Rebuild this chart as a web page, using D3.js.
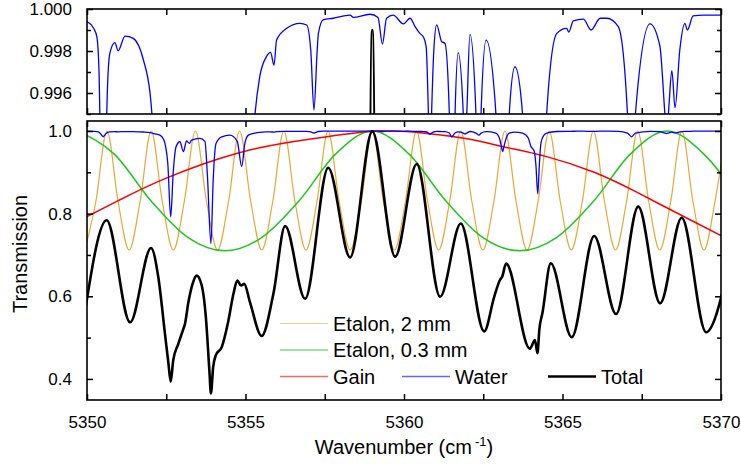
<!DOCTYPE html>
<html>
<head>
<meta charset="utf-8">
<script src="https://cdn.jsdelivr.net/npm/d3@7"></script>
<style>
body { margin: 0; background: #fff; }
svg { display: block; font-family: "Liberation Sans", Arial, sans-serif; }
</style>
</head>
<body>
<svg width="741" height="464"></svg>
<script>
// ticks
const xTicks = [5350, 5355, 5360, 5365, 5370]
const xMinor = [5352.5, 5357.5, 5362.5, 5367.5]
const topTicks = [0.996, 0.998, 1.000]
const topMinor = [0.995, 0.997, 0.999]
const botTicks = [0.4, 0.6, 0.8, 1.0]
const botMinor = [0.5, 0.7, 0.9]

// etalon 2 mm : peaks, half-way and minima
const etalon2 = [
	[5349.933,0.712],[5350.281,0.83],[5350.630,1],[5350.979,0.83],[5351.328,0.712],[5351.676,0.83],
	[5352.025,1],[5352.374,0.83],[5352.723,0.712],[5353.071,0.83],[5353.420,1],[5353.769,0.83],
	[5354.118,0.712],[5354.466,0.83],[5354.815,1],[5355.164,0.83],[5355.513,0.712],[5355.861,0.83],
	[5356.210,1],[5356.559,0.83],[5356.908,0.712],[5357.256,0.83],[5357.605,1],[5357.954,0.83],
	[5358.303,0.712],[5358.651,0.83],[5359.000,1],[5359.349,0.83],[5359.698,0.712],[5360.046,0.83],
	[5360.395,1],[5360.744,0.83],[5361.093,0.712],[5361.441,0.83],[5361.790,1],[5362.139,0.83],
	[5362.488,0.712],[5362.836,0.83],[5363.185,1],[5363.534,0.83],[5363.883,0.712],[5364.231,0.83],
	[5364.580,1],[5364.929,0.83],[5365.278,0.712],[5365.626,0.83],[5365.975,1],[5366.324,0.83],
	[5366.673,0.712],[5367.021,0.83],[5367.370,1],[5367.719,0.83],[5368.068,0.712],[5368.416,0.83],
	[5368.765,1],[5369.114,0.83],[5369.463,0.712],[5369.811,0.83],[5370.160,1]
]

// etalon 0.3 mm
const etalon03 = [
	[5349.70,1],[5350.86,0.944],[5352.03,0.83],[5353.19,0.742],[5354.35,0.71],[5355.51,0.742],
	[5356.68,0.83],[5357.84,0.944],[5359.00,1],[5360.16,0.944],[5361.33,0.83],[5362.49,0.742],
	[5363.65,0.71],[5364.81,0.742],[5365.98,0.83],[5367.14,0.944],[5368.30,1],[5369.46,0.944],
	[5370.63,0.83]
]

// gain
const gain = [
	[5350,0.793],[5351,0.832],[5352.5,0.886],[5354.83,0.948],[5357,0.980],[5358.8,0.998],
	[5359.5,1.0],[5360.5,0.996],[5362,0.981],[5363.13,0.962],[5364.5,0.938],[5366,0.900],
	[5367.34,0.852],[5368.9,0.790],[5370,0.747]
]

// water
const water = [
	[5350.00,0.99940],[5350.21,0.99908],[5350.31,0.99868],[5350.38,0.99700],[5350.43,0.9930],
	[5350.47,0.9890],[5350.51,0.9860],[5350.55,0.9890],[5350.59,0.9930],[5350.64,0.99600],
	[5350.72,0.99789],[5350.88,0.99840],[5350.98,0.99801],[5351.20,0.99871],[5351.46,0.99860],
	[5351.78,0.99757],[5351.99,0.99598],[5352.15,0.9930],[5352.30,0.9900],[5352.40,0.9820],
	[5352.46,0.9700],[5352.55,0.9200],[5352.64,0.7920],[5352.72,0.9000],[5352.81,0.9620],
	[5352.93,0.9740],[5353.04,0.9500],[5353.14,0.9760],[5353.23,0.9700],[5353.30,0.9780],
	[5353.56,0.9820],[5353.72,0.9750],[5353.80,0.8900],[5353.91,0.7270],[5353.98,0.8800],
	[5354.07,0.9700],[5354.25,0.9860],[5354.51,0.9900],[5354.74,0.9750],[5354.88,0.9140],
	[5354.98,0.9700],[5355.09,0.9900],[5355.30,0.99500],[5355.45,0.99678],[5355.66,0.99773],
	[5355.79,0.99793],[5355.90,0.99733],[5355.98,0.99852],[5356.30,0.99908],[5356.72,0.99932],
	[5356.93,0.99924],[5357.06,0.99800],[5357.16,0.99519],[5357.26,0.99800],[5357.30,0.99884],
	[5357.45,0.99948],[5357.77,0.99956],[5358.30,0.99971],[5358.40,0.99960],[5358.93,0.99975],
	[5359.18,0.99960],[5359.32,0.99833],[5359.45,0.99956],[5359.66,0.99971],[5359.98,0.99929],
	[5360.19,0.99956],[5360.35,0.99916],[5360.50,0.99884],[5360.61,0.99868],[5360.70,0.99820],
	[5360.77,0.99500],[5360.82,0.99200],[5360.87,0.99500],[5360.94,0.99800],[5361.03,0.99924],
	[5361.19,0.99844],[5361.29,0.99837],[5361.43,0.99500],[5361.50,0.98600],[5361.61,0.99500],
	[5361.71,0.99792],[5361.87,0.99500],[5361.92,0.99300],[5361.98,0.99500],[5362.08,0.99879],
	[5362.27,0.99500],[5362.37,0.99000],[5362.43,0.99500],[5362.59,0.99852],[5362.90,0.99500],
	[5363.00,0.98500],[5363.08,0.96000],[5363.11,0.95000],[5363.16,0.96500],[5363.25,0.98800],
	[5363.32,0.99500],[5363.50,0.99725],[5363.74,0.99500],[5363.92,0.98300],[5364.00,0.96300],
	[5364.11,0.95100],[5364.16,0.91900],[5364.22,0.84800],[5364.27,0.91900],[5364.32,0.97100],
	[5364.39,0.98700],[5364.50,0.99500],[5364.82,0.99884],[5365.13,0.99908],[5365.20,0.99890],
	[5365.34,0.99944],[5365.66,0.99952],[5365.90,0.99900],[5366.19,0.99956],[5366.40,0.99956],
	[5366.76,0.99916],[5367.05,0.99500],[5367.18,0.98600],[5367.30,0.99500],[5367.76,0.99929],
	[5368.07,0.99825],[5368.23,0.99500],[5368.28,0.99400],[5368.34,0.99500],[5368.45,0.99706],
	[5368.55,0.99530],[5368.70,0.99805],[5368.86,0.99932],[5368.94,0.99900],[5369.12,0.99967],
	[5369.44,0.99971],[5370.00,0.99971]
]

// total
const total = [
	[5349.93,0.560],[5350.62,0.784],[5351.36,0.537],[5352.02,0.717],[5352.25,0.646],
	[5352.46,0.509],[5352.57,0.437],[5352.64,0.393],[5352.72,0.445],[5352.88,0.485],
	[5353.04,0.521],[5353.09,0.533],[5353.20,0.586],[5353.33,0.630],[5353.46,0.650],
	[5353.62,0.626],[5353.75,0.549],[5353.86,0.421],[5353.91,0.365],[5353.98,0.429],
	[5354.06,0.457],[5354.25,0.477],[5354.46,0.541],[5354.62,0.606],[5354.74,0.638],
	[5354.86,0.626],[5354.96,0.630],[5355.14,0.586],[5355.51,0.504],[5355.88,0.606],
	[5356.25,0.770],[5356.88,0.594],[5357.61,0.911],[5358.30,0.694],[5359.00,0.999],
	[5359.72,0.696],[5360.40,0.920],[5361.14,0.599],[5361.79,0.776],[5362.53,0.515],
	[5362.85,0.600],[5363.03,0.640],[5363.10,0.648],[5363.22,0.679],[5363.97,0.473],
	[5364.13,0.494],[5364.21,0.462],[5364.27,0.520],[5364.37,0.561],[5364.63,0.680],
	[5365.29,0.501],[5366.00,0.746],[5366.69,0.557],[5367.39,0.817],[5368.08,0.583],
	[5368.76,0.790],[5369.53,0.513],[5370.16,0.645]
]

const legendRows = [
	[{ name: 'Etalon, 2 mm', color: '#e8a83a', w: 1.2 }],
	[{ name: 'Etalon, 0.3 mm', color: '#1ec81e', w: 1.5 }],
	[{ name: 'Gain', color: '#ff0000', w: 1.5 }, { name: 'Water', color: '#0000ff', w: 1.3 }, { name: 'Total', color: '#000', w: 2.6 }]
]

let svg = d3.select('svg')
let L = 87, R = 721

let x = d3.scaleLinear().domain([5350, 5370]).range([L, R])
let yTop = d3.scaleLinear().domain([0.995, 1.000]).range([114, 9])
let yBot = d3.scaleLinear().domain([0.349, 1.0242]).range([400, 121])

const addClip = (id, y0, y1) => {
	svg.append('clipPath').attr('id', id)
	.append('rect').attr('x', L).attr('y', y0).attr('width', R - L).attr('height', y1 - y0)
}
addClip('clipTop', 9, 114)
addClip('clipBot', 121, 400)

const drawLine = (g, data, y, color, w, curve = d3.curveMonotoneX) => {
	g.append('path').datum(data)
	.attr('fill', 'none')
	.attr('stroke', color)
	.attr('stroke-width', w)
	.attr('stroke-linejoin', 'round')
	.attr('d', d3.line().x(d => x(d[0])).y(d => y(d[1])).curve(curve))
}

// top panel
let gTop = svg.append('g').attr('clip-path', 'url(#clipTop)')
drawLine(gTop, water, yTop, '#0000ff', 1.3)
drawLine(gTop, total, yTop, '#000', 2.6)

// bottom panel
let gBot = svg.append('g').attr('clip-path', 'url(#clipBot)')
drawLine(gBot, etalon2, yBot, '#e8a83a', 1.2)
drawLine(gBot, etalon03, yBot, '#1ec81e', 1.5)
drawLine(gBot, gain, yBot, '#ff0000', 1.5, d3.curveNatural)
drawLine(gBot, water, yBot, '#0000ff', 1.3)
drawLine(gBot, total, yBot, '#000', 2.6)

// axes, ticks pointing inwards
const axis = (gen, tr, values, size, labels) => {
	let g = svg.append('g').attr('transform', tr)
	.call(gen.tickValues(values).tickSizeInner(-size).tickSizeOuter(0).tickPadding(labels ? labels.pad : 0)
		.tickFormat(labels ? labels.fmt : () => ''))
	g.select('.domain').remove()
	g.selectAll('.tick line').attr('stroke', '#000').attr('stroke-width', 1.5)
	g.selectAll('text').attr('font-size', 17).attr('fill', '#000')
		.attr('font-family', '"Liberation Sans", Arial, sans-serif')
	return g
}

const panel = (y, y0, y1, major, minor, fmt, xLabels) => {
	axis(d3.axisBottom(x), `translate(0,${y1})`, xTicks, 6, xLabels ? { pad: 16, fmt: d3.format('d') } : null)
	axis(d3.axisBottom(x), `translate(0,${y1})`, xMinor, 6)
	axis(d3.axisTop(x), `translate(0,${y0})`, xTicks.concat(xMinor), 6)
	axis(d3.axisLeft(y), `translate(${L},0)`, major, 6, { pad: 15, fmt: fmt })
	axis(d3.axisLeft(y), `translate(${L},0)`, minor, 4)
	axis(d3.axisRight(y), `translate(${R},0)`, major, 6)
	axis(d3.axisRight(y), `translate(${R},0)`, minor, 4)
	svg.append('rect')
	.attr('x', L).attr('y', y0).attr('width', R - L).attr('height', y1 - y0)
	.attr('fill', 'none').attr('stroke', '#000').attr('stroke-width', 1.6)
}
panel(yTop, 9, 114, topTicks, topMinor, d3.format('.3f'), false)
panel(yBot, 121, 400, botTicks, botMinor, d3.format('.1f'), true)

// axis titles
let xt = svg.append('text')
.attr('x', 404).attr('y', 454)
.attr('text-anchor', 'middle')
.attr('font-size', 20)
xt.append('tspan').text('Wavenumber (cm')
xt.append('tspan').attr('dy', -8).attr('font-size', 13).attr('dx', 3).text('-1')
xt.append('tspan').attr('dy', 8).text(')')

svg.append('text')
.attr('transform', 'translate(27,254) rotate(-90)')
.attr('text-anchor', 'middle')
.attr('font-size', 20)
.text('Transmission')

// legend
let rowY = [323.5, 350, 376.5]
let colX = [280, 402, 548]
legendRows.forEach((row, r) => {
	row.forEach((item, c) => {
		let g = svg.append('g').attr('transform', `translate(${colX[c]},${rowY[r]})`)
		g.append('line')
		.attr('x1', 0).attr('x2', 48)
		.attr('stroke', item.color)
		.attr('stroke-width', item.w)
		.attr('stroke-opacity', item.color === '#000' ? 1 : 0.6)
		g.append('text')
		.attr('x', 53).attr('y', 7)
		.attr('font-size', 20)
		.text(item.name)
	})
})
</script>
</body>
</html>
